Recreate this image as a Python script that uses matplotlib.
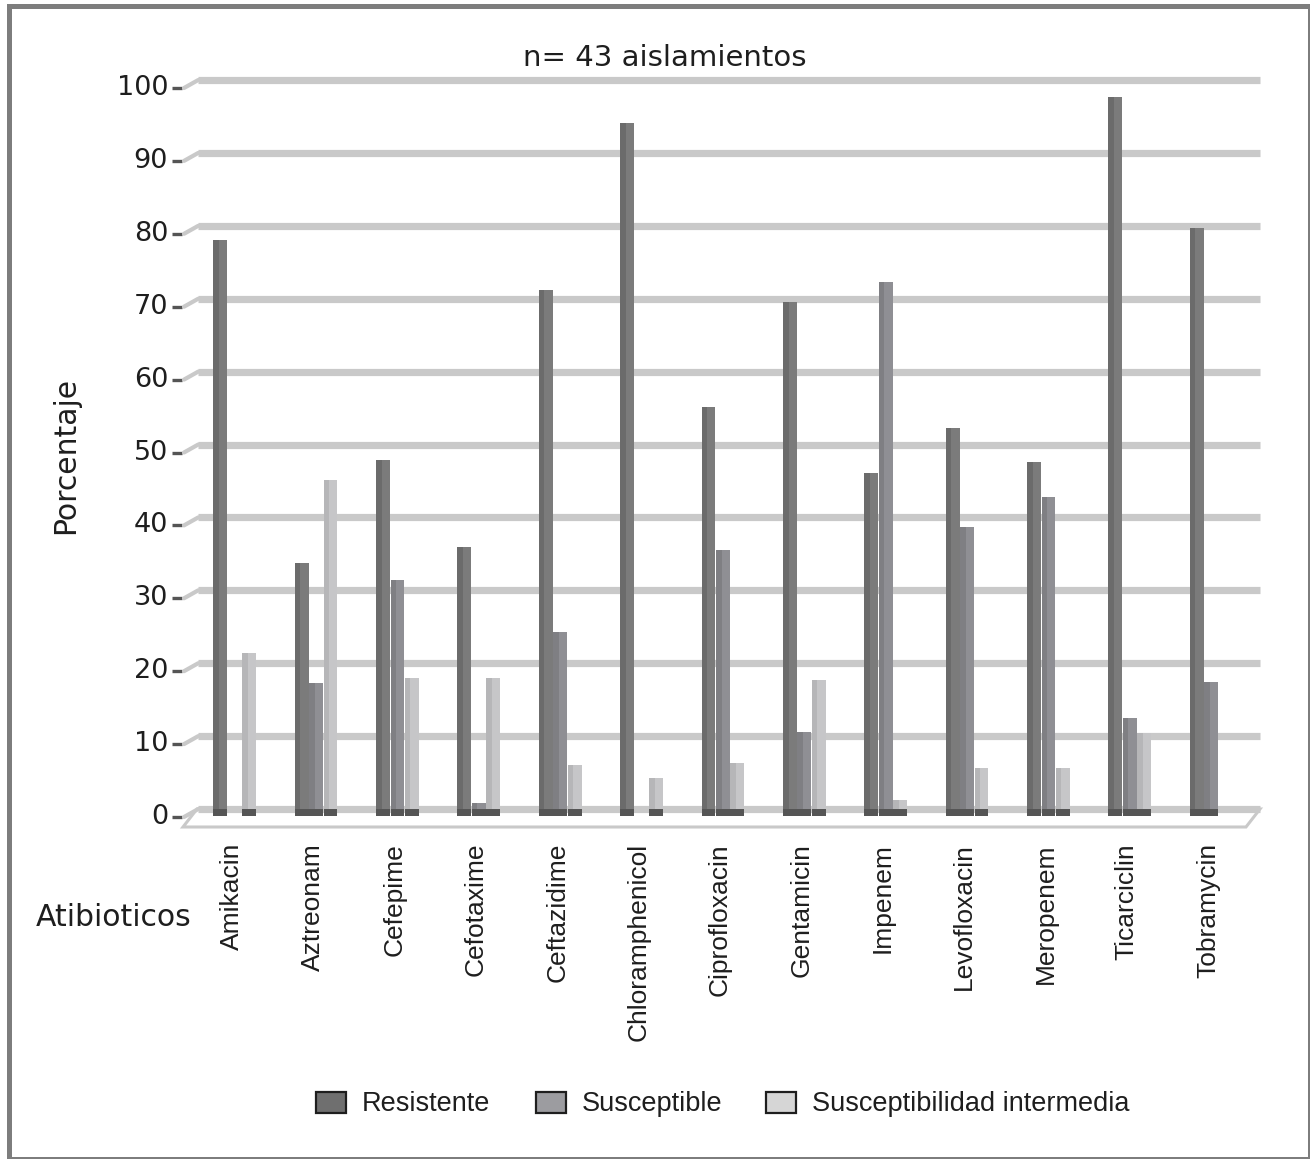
#!/usr/bin/env python3
"""Susceptibilidad antimicrobiana de 43 aislamientos: barras pseudo-3D por antibiótico."""
import numpy as np
import matplotlib
matplotlib.use("Agg")
import matplotlib.pyplot as plt
from matplotlib.patches import Polygon, Rectangle
from matplotlib.transforms import ScaledTranslation

ANTIBIOTICS = ["Amikacin", "Aztreonam", "Cefepime", "Cefotaxime", "Ceftazidime",
               "Chloramphenicol", "Ciprofloxacin", "Gentamicin", "Impenem",
               "Levofloxacin", "Meropenem", "Ticarciclin", "Tobramycin"]
RESISTENTE = [78, 33.7, 47.9, 35.9, 71.2, 94.1, 55.1, 69.5, 46.1, 52.3, 47.6, 97.7, 79.7]
SUSCEPTIBLE = [0, 17.3, 31.4, 0.8, 24.3, 0, 35.5, 10.6, 72.3, 38.7, 42.8, 12.5, 17.4]
INTERMEDIA = [21.4, 45.1, 18.0, 18.0, 6.0, 4.3, 6.3, 17.7, 1.2, 5.6, 5.6, 10.4, 0]
SERIES = ["Resistente", "Susceptible", "Susceptibilidad intermedia"]
Y_TICKS = list(range(0, 101, 10))
TITLE = "n= 43 aislamientos"

# grey print palette
BAR_FACE = ["#7b7b7b", "#8f8f94", "#c6c6c8"]
BAR_SHADE = ["#5e5e5e", "#727276", "#a9a9ac"]
KEY_FACE = ["#6f6f6f", "#9c9ca0", "#d6d6d6"]
GRID = "#c9c9c9"
INK = "#1e1e1e"
FRAME = "#7d7d7d"

W, H = 1310, 1159
GEO = "DejaVu Sans"
NARROW = "Liberation Sans"

fig = plt.figure(figsize=(W / 100, H / 100), dpi=100)
fig.patch.set_facecolor("white")

# pixel-space layer for the frame, floor and key
deco = fig.add_axes([0, 0, 1, 1], zorder=0)
deco.set_xlim(0, W)
deco.set_ylim(H, 0)
deco.axis("off")

# outer frame (heavier on top and left)
deco.add_patch(Rectangle((7, 4), W - 7, 5, color=FRAME, lw=0))
deco.add_patch(Rectangle((7, 4), 5, H - 4, color=FRAME, lw=0))
deco.add_patch(Rectangle((W - 2.5, 4), 2.5, H - 4, color=FRAME, lw=0))
deco.add_patch(Rectangle((7, H - 2.5), W - 7, 2.5, color=FRAME, lw=0))

# chart floor
deco.add_patch(Polygon([(197, 809), (1260, 809), (1246, 827), (183, 827)],
                       closed=True, facecolor="white", edgecolor=GRID, lw=2.2))


def px_box(left, top, right, bottom):
    return [left / W, 1 - bottom / H, (right - left) / W, (bottom - top) / H]


ax = fig.add_axes(px_box(194, 80, 1260, 809), zorder=1)
ax.patch.set_alpha(0)
n = len(ANTIBIOTICS)
ax.set_xlim(-0.5, n - 0.4)
ax.set_ylim(0, 100)
ax.axis("off")


def shifted(base, dx, dy):
    return base + ScaledTranslation(dx / 100, dy / 100, fig.dpi_scale_trans)


ytr = ax.get_yaxis_transform()
for v in Y_TICKS:
    ax.plot([0.004, 1], [v, v], transform=ytr, color=GRID, lw=5.2,
            solid_capstyle="butt", zorder=1, clip_on=False)
    # slanted connector from the front tick to the back wall
    ax.annotate("", xy=(0.004, v), xycoords=ytr,
                xytext=(0, v), textcoords=shifted(ytr, -10, -8),
                arrowprops=dict(arrowstyle="-", color=GRID, lw=3,
                                shrinkA=0, shrinkB=0))
    ax.plot([0, 0.009], [v, v], transform=shifted(ytr, -22, -8), color="#555555",
            lw=2.4, solid_capstyle="butt", clip_on=False)
    ax.text(0, v, str(v), transform=shifted(ytr, -26, -8), ha="right",
            va="center", fontsize=19.5, family=GEO, color=INK)

x = np.arange(n)
width = 0.17
step = 0.177
for k, vals in enumerate([RESISTENTE, SUSCEPTIBLE, INTERMEDIA]):
    xs = x + (k - 1) * step
    vals = np.asarray(vals, dtype=float)
    ax.bar(xs, vals, width=width, color=BAR_FACE[k], lw=0, zorder=3 + k,
           clip_on=False)
    # darker left side for a rounded look
    ax.bar(xs - width * 0.3, vals, width=width * 0.4, color=BAR_SHADE[k], lw=0,
           zorder=3 + k, alpha=0.55, clip_on=False)
    # dark foot where the bar meets the floor
    shown = vals > 0
    ax.bar(xs[shown], -0.9, width=width, color="#555555", lw=0, zorder=3 + k,
           clip_on=False)

xtr = ax.get_xaxis_transform()
for i, name in enumerate(ANTIBIOTICS):
    ax.text(i, 0, name, transform=shifted(xtr, -3, -34), rotation=90,
            ha="center", va="top", fontsize=19, family=NARROW, color=INK)

fig.text(665 / W, 1 - 58 / H, TITLE, ha="center", va="center",
         fontsize=21, family=GEO, color=INK)
fig.text(66 / W, 1 - 455 / H, "Porcentaje", rotation=90, ha="center",
         va="center", fontsize=21.5, family=GEO, color=INK)
fig.text(114 / W, 1 - 917 / H, "Atibioticos", ha="center", va="center",
         fontsize=21.5, family=GEO, color=INK)

# key
key_left = [316, 536, 766]
for k, name in enumerate(SERIES):
    deco.add_patch(Rectangle((key_left[k], 1092), 30, 21, facecolor=KEY_FACE[k],
                             edgecolor=INK, lw=1.6))
    deco.text(key_left[k] + 46, 1104, name, ha="left", va="center",
              fontsize=19.5, family=NARROW, color=INK)

fig.savefig("out.png", dpi=100, facecolor="white")
